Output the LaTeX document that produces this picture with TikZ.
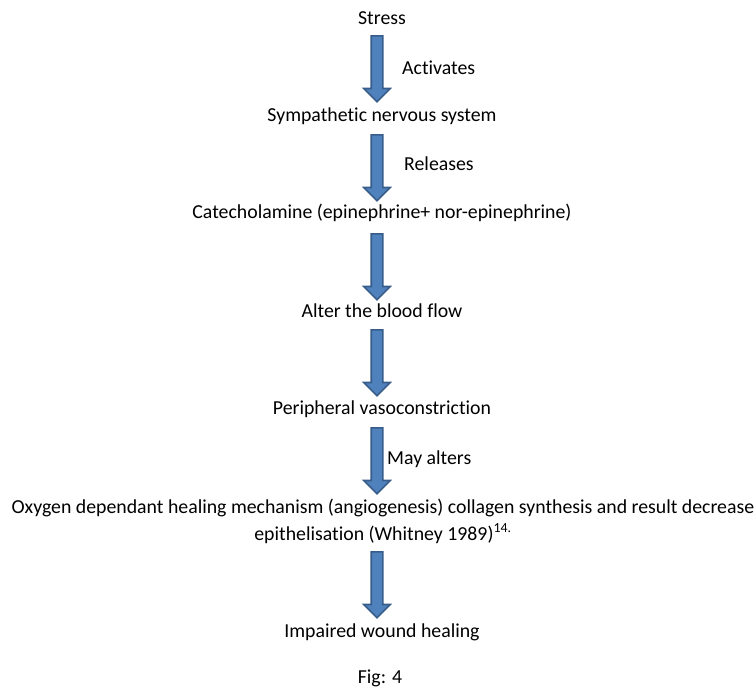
\documentclass[tikz,border=0pt]{standalone}
\usepackage{fontspec}
\setmainfont{Carlito}[Ligatures=NoCommon]
\usetikzlibrary{shapes.arrows}
\definecolor{arrowfill}{RGB}{79,129,189}
\definecolor{arrowline}{RGB}{56,93,138}
\tikzset{
  stagetext/.style={inner sep=0pt, font=\fontsize{19.8}{27}\selectfont, text=black},
  sidetext/.style={stagetext, anchor=west},
  blockarrow/.style={single arrow, draw=arrowline, fill=arrowfill, line width=1.6pt,
    shape border rotate=270, minimum height=66, minimum width=26,
    text width=10pt, text height=10pt, text depth=0pt,
    single arrow head extend=7.5, single arrow tip angle=90, inner sep=0pt, anchor=tail}
}
\begin{document}
\begin{tikzpicture}[x=1pt, y=-1pt]
    \useasboundingbox (0,0) rectangle (755,688);
    % steps of the chain
    \node[stagetext] (stress) at (382,18) {Stress};
    \node[stagetext] (sns) at (382,116) {Sympathetic nervous system};
    \node[stagetext] (cat) at (382,213) {Catecholamine (epinephrine+ nor-epinephrine)};
    \node[stagetext] (flow) at (382,311) {Alter the blood flow};
    \node[stagetext] (vaso) at (382,409) {Peripheral vasoconstriction};
    \node[stagetext, align=center] (oxy) at (383,521)
        {Oxygen dependant healing mechanism (angiogenesis) collagen synthesis and result decrease\\
         epithelisation (Whitney 1989)\textsuperscript{14.}};
    \node[stagetext] (heal) at (382,632) {Impaired wound healing};
    \node[stagetext] (fig) at (380,678) {Fig: 4};
    % block arrows
    \node[blockarrow] (a1) at (377,35) {};
    \node[blockarrow] (a2) at (377,134) {};
    \node[blockarrow] (a3) at (377,233) {};
    \node[blockarrow] (a4) at (377,329) {};
    \node[blockarrow] (a5) at (377,427) {};
    \node[blockarrow] (a6) at (377,551) {};
    % arrow labels
    \node[sidetext] (act) at (402,68) {Activates};
    \node[sidetext] (rel) at (404,164) {Releases};
    \node[sidetext] (may) at (387,459) {May alters};
\end{tikzpicture}
\end{document}
